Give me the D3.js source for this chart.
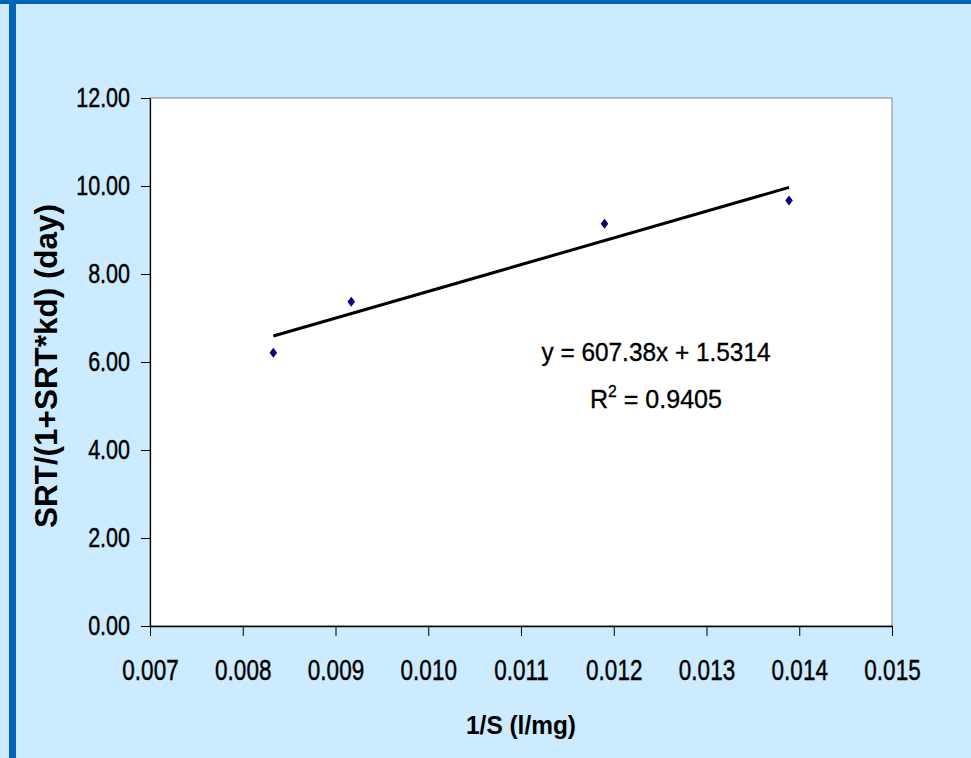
<!DOCTYPE html>
<html>
<head>
<meta charset="utf-8">
<script src="https://cdn.jsdelivr.net/npm/d3@7"></script>
<style>
  html, body { margin: 0; padding: 0; background: #CCEBFF; }
  svg { display: block; }
  text { font-family: "Liberation Sans", Arial, sans-serif; fill: #000; }
</style>
</head>
<body>
<svg id="chart" width="971" height="758"></svg>
<script>
// ---- data ----
const xValues = [0.00833, 0.00917, 0.01190, 0.01389];   // 1/S (l/mg)
const yValues = [6.21, 7.37, 9.14, 9.67];               // SRT/(1+SRT*kd) (day)
const xTicks = [0.007, 0.008, 0.009, 0.010, 0.011, 0.012, 0.013, 0.014, 0.015];
const yTicks = [0, 2, 4, 6, 8, 10, 12];
const trendSlope = 607.38;
const trendIntercept = 1.5314;
const equationLabel = "y = 607.38x + 1.5314";
const r2Value = "0.9405";
const xTitle = "1/S (l/mg)";
const yTitle = "SRT/(1+SRT*kd) (day)";

// ---- layout ----
const W = 971, H = 758;
const plot = { left: 150, right: 892, top: 98, bottom: 626 };
const stretch = 1.27;

const svg = d3.select("#chart");

// background & frame bars
svg.append("rect").attr("x", 0).attr("y", 0).attr("width", W).attr("height", H).attr("fill", "#CCEBFF");
svg.append("rect").attr("x", 0).attr("y", 0).attr("width", W).attr("height", 4).attr("fill", "#0066B3");
svg.append("rect").attr("x", 9).attr("y", 0).attr("width", 7).attr("height", H).attr("fill", "#0066B3");

const x = d3.scaleLinear().domain([0.007, 0.015]).range([plot.left, plot.right]);
const y = d3.scaleLinear().domain([0, 12]).range([plot.bottom, plot.top]);

// plot area
svg.append("rect")
  .attr("x", plot.left).attr("y", plot.top)
  .attr("width", plot.right - plot.left).attr("height", plot.bottom - plot.top)
  .attr("fill", "#fff").attr("stroke", "#808080").attr("stroke-width", 1);

// y axis
const yAxis = svg.append("g")
  .attr("transform", `translate(${plot.left},0)`)
  .call(d3.axisLeft(y).tickValues(yTicks).tickFormat(d3.format(".2f")).tickSize(9).tickPadding(11).tickSizeOuter(0));
yAxis.select(".domain").attr("stroke", "#000").attr("stroke-width", 1.2);
yAxis.selectAll(".tick line").attr("stroke", "#000");
yAxis.selectAll("text")
  .style("font-family", '"Liberation Sans", Arial, sans-serif')
  .style("font-size", "21.5px")
  .attr("stroke", "#000").attr("stroke-width", 0.35)
  .attr("transform", `scale(1,${stretch})`);

// x axis
const xAxis = svg.append("g")
  .attr("transform", `translate(0,${plot.bottom})`)
  .call(d3.axisBottom(x).tickValues(xTicks).tickFormat(d3.format(".3f")).tickSize(10).tickPadding(24).tickSizeOuter(0));
xAxis.select(".domain").attr("stroke", "#000").attr("stroke-width", 1.5);
xAxis.selectAll(".tick line").attr("stroke", "#000");
xAxis.selectAll("text")
  .style("font-family", '"Liberation Sans", Arial, sans-serif')
  .style("font-size", "22.5px")
  .attr("stroke", "#000").attr("stroke-width", 0.35)
  .attr("y", 34 / stretch)
  .attr("transform", `scale(1,${stretch})`);

// trendline
const xMin = d3.min(xValues), xMax = d3.max(xValues);
svg.append("line")
  .attr("x1", x(xMin)).attr("y1", y(trendSlope * xMin + trendIntercept))
  .attr("x2", x(xMax)).attr("y2", y(trendSlope * xMax + trendIntercept))
  .attr("stroke", "#000").attr("stroke-width", 3);

// points (diamonds)
const pts = xValues.map((v, i) => ({ x: v, y: yValues[i] }));
svg.append("g").selectAll("path").data(pts).join("path")
  .attr("transform", d => `translate(${x(d.x)},${y(d.y)})`)
  .attr("d", "M0,-5L3.8,0L0,5L-3.8,0Z")
  .attr("fill", "#000080");

// equation labels
const eq = svg.append("text")
  .attr("x", 656).attr("y", 361)
  .attr("text-anchor", "middle")
  .attr("stroke", "#000").attr("stroke-width", 0.35)
  .style("font-size", "25.5px")
  .text(equationLabel);
eq.attr("textLength", 229).attr("lengthAdjust", "spacingAndGlyphs");

const r2 = svg.append("text")
  .attr("x", 656).attr("y", 408)
  .attr("text-anchor", "middle")
  .attr("stroke", "#000").attr("stroke-width", 0.35)
  .style("font-size", "25.5px");
r2.append("tspan").text("R");
r2.append("tspan").attr("dy", -11).style("font-size", "16px").text("2");
r2.append("tspan").attr("dy", 11).text(" = " + r2Value);
r2.attr("textLength", 132).attr("lengthAdjust", "spacingAndGlyphs");

// axis titles
const xt = svg.append("text")
  .attr("x", 521).attr("y", 734)
  .attr("text-anchor", "middle")
  .style("font-size", "26px").style("font-weight", "bold")
  .text(xTitle);
xt.attr("textLength", 110).attr("lengthAdjust", "spacingAndGlyphs");

const yt = svg.append("text")
  .attr("transform", "translate(57,366) rotate(-90)")
  .attr("text-anchor", "middle")
  .style("font-size", "31px").style("font-weight", "bold")
  .text(yTitle);
yt.attr("textLength", 324).attr("lengthAdjust", "spacingAndGlyphs");
</script>
</body>
</html>
